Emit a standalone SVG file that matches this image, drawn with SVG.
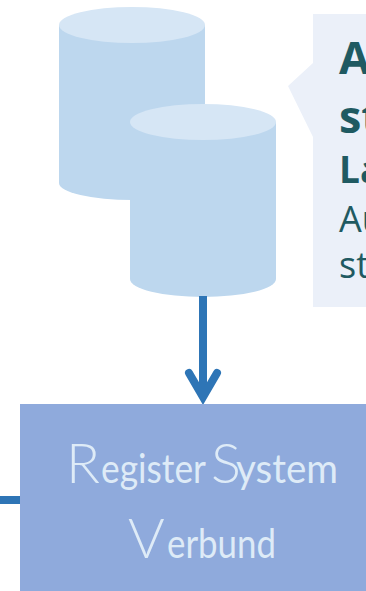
<svg xmlns="http://www.w3.org/2000/svg" width="366" height="591" viewBox="0 0 366 591">
  <defs>
    <style>
      .cyl-body { fill: #BDD7EE; }
      .cyl-top { fill: #D6E6F5; }
      .conn { stroke: #2E75B6; stroke-width: 8; fill: none; }
      .callout { fill: #EBF0F9; }
      .ct { font-family: "Open Sans", "Noto Sans", sans-serif; fill: #1F5A62; }
      .b { font-weight: 700; }
      .box { fill: #8FAADC; }
      .bt { font-family: Lato, "Open Sans", sans-serif; fill: #DEEBF7; }
      .cap { font-size: 56px; font-weight: 300; }
      .low { font-size: 41px; font-weight: 400; }
    </style>
    <marker id="chev" markerUnits="userSpaceOnUse" orient="auto" markerWidth="40" markerHeight="40" refX="0" refY="0" viewBox="-30 -20 40 40" overflow="visible">
      <path d="M-24,-14 L0,0 L-24,14" fill="none" stroke="#2E75B6" stroke-width="8" stroke-linecap="round" stroke-linejoin="miter"/>
    </marker>
  </defs>

  <g id="database-1">
    <path class="cyl-body" d="M59,25 L205,25 L205,183 A73,17 0 0 1 59,183 Z"/>
    <ellipse class="cyl-top" cx="132" cy="25" rx="73" ry="18"/>
  </g>

  <g id="database-2">
    <path class="cyl-body" d="M130,122 L276,122 L276,279 A73,18 0 0 1 130,279 Z"/>
    <ellipse class="cyl-top" cx="203" cy="122" rx="73" ry="18"/>
  </g>

  <g id="callout">
    <path class="callout" d="M313,14 L380,14 L380,307 L313,307 L313,137 L288,86 L313,63 Z"/>
    <text class="ct b" x="339" y="74" font-size="45">A</text>
    <text class="ct b" x="339" y="133" font-size="45">st</text>
    <text class="ct b" x="339" y="183" font-size="37">La</text>
    <text class="ct" x="339" y="232" font-size="36">Au</text>
    <text class="ct" x="339" y="278" font-size="36">st</text>
  </g>

  <g id="connectors">
    <path class="conn" d="M203,296 L203,397" marker-end="url(#chev)"/>
    <path class="conn" d="M0,500 L20,500"/>
  </g>

  <g id="registersystem-verbund">
    <rect class="box" x="20" y="404" width="366" height="187"/>
    <text class="bt" y="483"><tspan class="cap" x="66">R</tspan><tspan class="low" x="101" textLength="105" lengthAdjust="spacingAndGlyphs">egister</tspan><tspan class="cap" x="211">S</tspan><tspan class="low" x="236" textLength="102" lengthAdjust="spacingAndGlyphs">ystem</tspan></text>
    <text class="bt" y="558"><tspan class="cap" x="128">V</tspan><tspan class="low" x="167" textLength="109" lengthAdjust="spacingAndGlyphs">erbund</tspan></text>
  </g>
</svg>
